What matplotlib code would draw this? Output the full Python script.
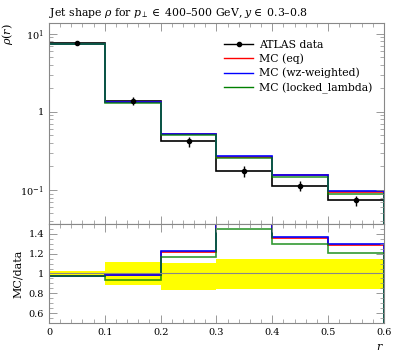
import numpy as np
import matplotlib
matplotlib.use("Agg")
from matplotlib import pyplot as plt
from matplotlib.lines import Line2D
from matplotlib.ticker import MultipleLocator, FuncFormatter, LogLocator, NullFormatter

plt.rcParams['font.family'] = 'DejaVu Serif'
plt.rcParams['mathtext.fontset'] = 'dejavuserif'

# bin edges in r
edges = [0.0, 0.1, 0.2, 0.3, 0.4, 0.5, 0.6]

# ATLAS data, rho(r)
data = [7.7, 1.38, 0.43, 0.175, 0.114, 0.0738]
err_up = [0.03, 0.12, 0.11, 0.15, 0.15, 0.15]     # relative
err_dn = [0.03, 0.12, 0.17, 0.157, 0.157, 0.154]  # relative

# MC / data ratios
ratio_eq = [0.975, 0.98, 1.22, 1.52, 1.36, 1.29]
ratio_wz = [0.97, 0.985, 1.23, 1.55, 1.37, 1.30]
ratio_ll = [0.975, 0.93, 1.17, 1.45, 1.30, 1.21]

data = np.array(data)
mc_eq = data * np.array(ratio_eq)
mc_wz = data * np.array(ratio_wz)
mc_ll = data * np.array(ratio_ll)
centers = 0.5 * (np.array(edges[:-1]) + np.array(edges[1:]))

fig = plt.figure(figsize=(3.97, 3.58), dpi=100)
ax = fig.add_axes([0.1234, 0.3743, 0.8436, 0.5615])
rx = fig.add_axes([0.1234, 0.0978, 0.8436, 0.2765], sharex=ax)

# main panel
ax.stairs(data, edges, color='black', lw=1.2)
ax.stairs(mc_eq, edges, color='red', lw=1.2)
ax.stairs(mc_wz, edges, color='blue', lw=1.2)
ax.stairs(mc_ll, edges, color='green', lw=1.2, alpha=0.8)
ax.errorbar(centers, data, yerr=[data * np.array(err_dn), data * np.array(err_up)],
            fmt='o', color='black', ms=3, lw=1, capsize=0)

ax.set_yscale('log')
ax.set_ylim(0.0366, 13.8)
ax.set_xlim(0, 0.6)

def logfmt(v, pos):
    if abs(v - 1) < 1e-9:
        return '1'
    e = int(round(np.log10(v)))
    return r'$10^{%d}$' % e

ax.yaxis.set_major_locator(LogLocator(base=10))
ax.yaxis.set_major_formatter(FuncFormatter(logfmt))
ax.yaxis.set_minor_formatter(NullFormatter())
ax.xaxis.set_major_locator(MultipleLocator(0.1))
ax.xaxis.set_minor_locator(MultipleLocator(0.02))
plt.setp(ax.get_xticklabels(), visible=False)

for a in (ax, rx):
    a.tick_params(which='both', direction='in', top=True, right=True, labelsize=7)
    a.tick_params(which='major', length=6, width=0.6, color='#888888')
    a.tick_params(which='minor', length=3, width=0.5, color='#888888')
    for s in a.spines.values():
        s.set_color('#888888')
        s.set_linewidth(0.8)

ax.set_ylabel(r'$\rho(r)$', fontsize=8, loc='top')
ax.set_title(r'Jet shape $\rho$ for $p_\perp \in$ 400–500 GeV, $y \in$ 0.3–0.8',
             fontsize=7.8, loc='left', pad=5)

handles = [
    Line2D([], [], color='black', marker='o', ms=3, lw=1),
    Line2D([], [], color='red', lw=1),
    Line2D([], [], color='blue', lw=1),
    Line2D([], [], color='green', lw=1),
]
labels = ['ATLAS data', 'MC (eq)', 'MC (wz-weighted)', 'MC (locked_lambda)']
ax.legend(handles, labels, loc='upper right', bbox_to_anchor=(0.995, 0.965),
          frameon=False, fontsize=7.8, handlelength=2.6, handletextpad=0.6,
          labelspacing=0.35)

# ratio panel
rx.stairs(1 + np.array(err_up), edges, baseline=1 - np.array(err_dn), fill=True,
          color='#ffff00', lw=0)
rx.axhline(1, color='#888888', lw=0.8)
rx.stairs(ratio_eq, edges, color='red', lw=1.2)
rx.stairs(ratio_wz, edges, color='blue', lw=1.2)
rx.stairs(ratio_ll, edges, color='green', lw=1.2, alpha=0.8)
rx.set_ylim(0.5, 1.5)
rx.yaxis.set_major_locator(MultipleLocator(0.2))
rx.yaxis.set_minor_locator(MultipleLocator(0.05))
rx.yaxis.set_major_formatter(FuncFormatter(lambda v, p: '%g' % round(v, 2)))
rx.xaxis.set_major_formatter(FuncFormatter(lambda v, p: '%g' % round(v, 2)))
rx.set_ylabel('MC/data', fontsize=8)
rx.set_xlabel(r'$r$', fontsize=8, loc='right')

fig.savefig('out.png', dpi=100)
